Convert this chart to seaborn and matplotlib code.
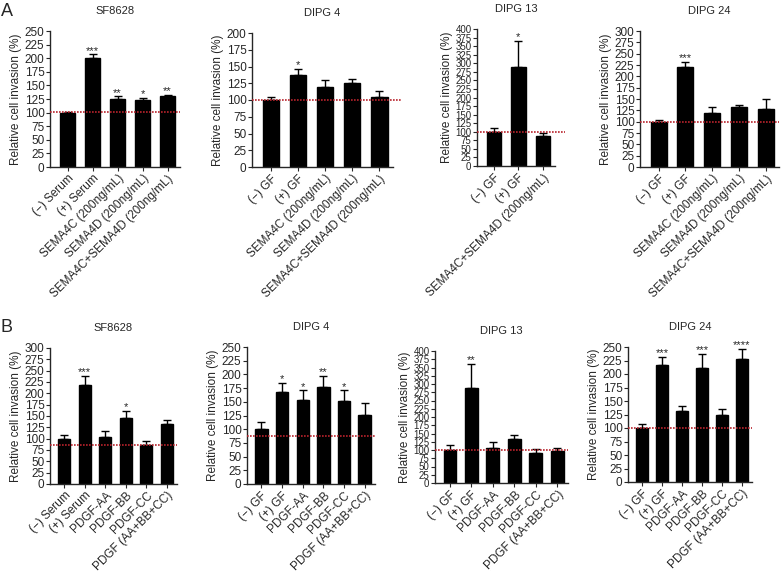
import matplotlib
matplotlib.use('Agg')
import matplotlib.pyplot as plt
import seaborn as sns
import numpy as np

sns.set_style('ticks')
plt.rcParams['font.family'] = ['Liberation Sans', 'DejaVu Sans']

# ---- data: panel A (SEMA4C / SEMA4D) ----
a_titles = ['SF8628', 'DIPG 4', 'DIPG 13', 'DIPG 24']
a_cats_serum = ['(\u2212) Serum', '(+) Serum', 'SEMA4C (200ng/mL)', 'SEMA4D (200ng/mL)',
                'SEMA4C+SEMA4D (200ng/mL)']
a_cats_gf = ['(\u2212) GF', '(+) GF', 'SEMA4C (200ng/mL)', 'SEMA4D (200ng/mL)',
             'SEMA4C+SEMA4D (200ng/mL)']
a_cats_13 = ['(\u2212) GF', '(+) GF', 'SEMA4C+SEMA4D (200ng/mL)']

a_sf8628 = [100, 201, 125, 124, 130]
a_sf8628_err = [2, 6, 5, 3, 3]
a_sf8628_sig = ['', '***', '**', '*', '**']

a_dipg4 = [100, 137, 119, 125, 105]
a_dipg4_err = [4, 10, 11, 6, 8]
a_dipg4_sig = ['', '*', '', '', '']

a_dipg13 = [100, 290, 88]
a_dipg13_err = [12, 75, 8]
a_dipg13_sig = ['', '*', '']

a_dipg24 = [100, 220, 119, 132, 129]
a_dipg24_err = [4, 12, 13, 4, 20]
a_dipg24_sig = ['', '***', '', '', '']

# ---- data: panel B (PDGF) ----
b_cats_serum = ['(\u2212) Serum', '(+) Serum', 'PDGF-AA', 'PDGF-BB', 'PDGF-CC',
                'PDGF (AA+BB+CC)']
b_cats_gf = ['(\u2212) GF', '(+) GF', 'PDGF-AA', 'PDGF-BB', 'PDGF-CC',
             'PDGF (AA+BB+CC)']

b_sf8628 = [100, 219, 104, 145, 87, 132]
b_sf8628_err = [8, 19, 13, 17, 7, 9]
b_sf8628_sig = ['', '***', '', '*', '', '']

b_dipg4 = [100, 168, 153, 177, 151, 126]
b_dipg4_err = [14, 17, 18, 20, 20, 22]
b_dipg4_sig = ['', '*', '*', '**', '*', '']

b_dipg13 = [100, 287, 105, 132, 92, 97]
b_dipg13_err = [15, 75, 18, 13, 10, 10]
b_dipg13_sig = ['', '**', '', '', '', '']

b_dipg24 = [100, 216, 131, 212, 125, 228]
b_dipg24_err = [8, 16, 9, 25, 11, 18]
b_dipg24_sig = ['', '***', '', '***', '', '****']

# reference line levels
a_ref = [101, 100, 100, 100]
b_ref = [87, 88, 100, 100]

# y-axis limits
a_ymax = [250, 200, 400, 300]
b_ymax = [300, 250, 400, 250]

W, H = 782, 571
fig = plt.figure(figsize=(W / 100, H / 100), dpi=100)


def px_axes(x0, y0, x1, y1):
    return fig.add_axes([x0 / W, 1 - y1 / H, (x1 - x0) / W, (y1 - y0) / H])


def draw(ax, title, cats, vals, errs, sig, ref, ymax, ref_ext=0.0, ytick_size=8.5):
    n = len(vals)
    sns.barplot(x=cats, y=vals, color='black', edgecolor='black', width=0.6,
                saturation=1, ax=ax)
    ax.errorbar(np.arange(n), vals, yerr=[np.zeros(n), errs], fmt='none',
                ecolor='black', elinewidth=1, capsize=3, capthick=1)
    for i in range(n):
        if sig[i]:
            ax.text(i, vals[i] + errs[i] - ymax * 0.01, sig[i], ha='center',
                    va='bottom', fontsize=8)
    ax.set_xlim(-0.7, n - 0.5)
    ax.set_ylim(0, ymax)
    ax.set_yticks(np.arange(0, ymax + 1, 25))
    ax.plot([-0.7, n - 0.5 + ref_ext], [ref, ref], color='#b8222c', lw=1.2,
            ls=(0, (1, 0.8)), clip_on=False, zorder=5)
    ax.set_title(title, fontsize=8, pad=12)
    ax.set_ylabel('Relative cell invasion (%)', fontsize=8.5, labelpad=2)
    ax.set_xlabel('')
    ax.tick_params(axis='y', labelsize=ytick_size, length=3, pad=1)
    ax.tick_params(axis='x', labelsize=8.5, length=3, pad=1)
    for lab in ax.get_xticklabels():
        lab.set_rotation(45)
        lab.set_ha('right')
        lab.set_rotation_mode('anchor')
    sns.despine(ax=ax)
    for s in ['left', 'bottom']:
        ax.spines[s].set_linewidth(1)


ax = px_axes(50, 31, 180, 167)
draw(ax, a_titles[0], a_cats_serum, a_sf8628, a_sf8628_err, a_sf8628_sig, a_ref[0], a_ymax[0])
ax = px_axes(252, 33, 393, 167)
draw(ax, a_titles[1], a_cats_gf, a_dipg4, a_dipg4_err, a_dipg4_sig, a_ref[1], a_ymax[1], 0.3)
ax = px_axes(477, 29, 555, 166)
draw(ax, a_titles[2], a_cats_13, a_dipg13, a_dipg13_err, a_dipg13_sig, a_ref[2], a_ymax[2], 0.4,
     ytick_size=7)
ax = px_axes(640, 31, 779, 167)
draw(ax, a_titles[3], a_cats_gf, a_dipg24, a_dipg24_err, a_dipg24_sig, a_ref[3], a_ymax[3])

ax = px_axes(50, 348, 177, 484)
draw(ax, a_titles[0], b_cats_serum, b_sf8628, b_sf8628_err, b_sf8628_sig, b_ref[0], b_ymax[0])
ax = px_axes(247, 347, 375, 484)
draw(ax, a_titles[1], b_cats_gf, b_dipg4, b_dipg4_err, b_dipg4_sig, b_ref[1], b_ymax[1])
ax = px_axes(435, 351, 568, 483)
draw(ax, a_titles[2], b_cats_gf, b_dipg13, b_dipg13_err, b_dipg13_sig, b_ref[2], b_ymax[2],
     ytick_size=7)
ax = px_axes(628, 347, 752, 482)
draw(ax, a_titles[3], b_cats_gf, b_dipg24, b_dipg24_err, b_dipg24_sig, b_ref[3], b_ymax[3])

fig.text(1 / W, 1 - 11 / H, 'A', fontsize=13, va='center', ha='left')
fig.text(1 / W, 1 - 327 / H, 'B', fontsize=13, va='center', ha='left')

fig.savefig('out.png', dpi=100, facecolor='white')
